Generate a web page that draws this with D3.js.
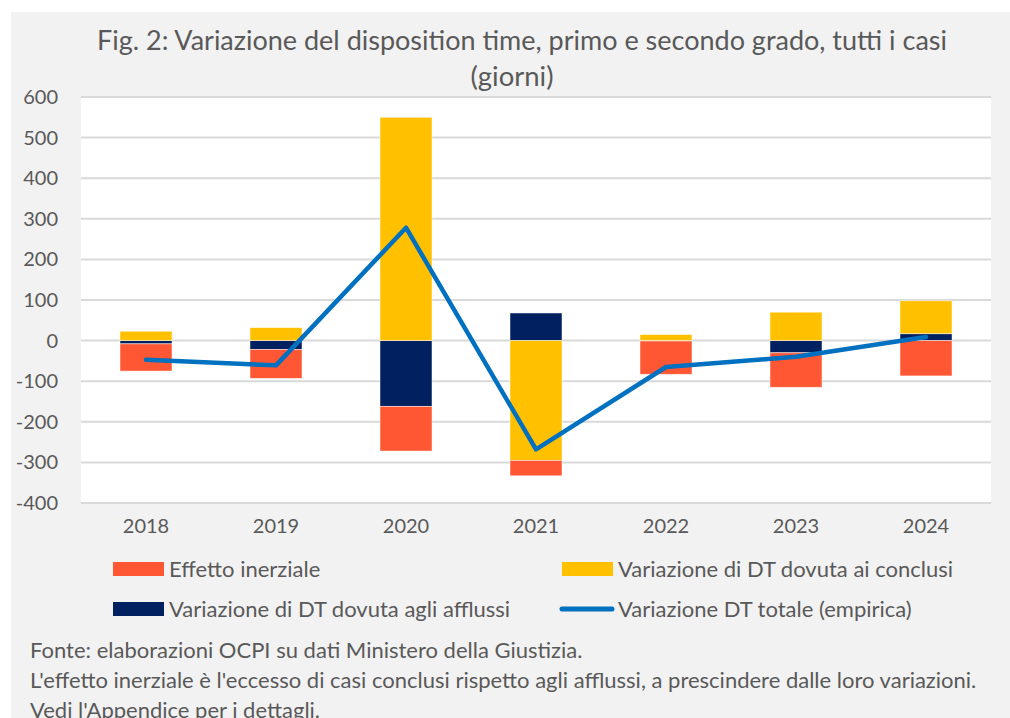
<!DOCTYPE html>
<html>
<head>
<meta charset="utf-8">
<script src="https://cdn.jsdelivr.net/npm/d3@7"></script>
<style>
  body { margin: 0; background: #fff; }
  svg text { font-family: Lato, "Open Sans", sans-serif; fill: #595959; }
</style>
</head>
<body>
<svg id="chart" width="1010" height="718"></svg>
<script>
// data (giorni)
var years = ["2018", "2019", "2020", "2021", "2022", "2023", "2024"];
var inerziale = [-67, -71, -110, -38, -82, -85, -87];
var conclusi = [23, 32, 550, -295, 15, 70, 81];
var afflussi = [-8, -22, -162, 68, -1, -30, 17];
var totale = [-47, -61, 278, -268, -65, -40, 9];
var yTicks = [-400, -300, -200, -100, 0, 100, 200, 300, 400, 500, 600];

var colors = {inerziale: "#ff5733", conclusi: "#ffc000", afflussi: "#002060", totale: "#0070c0"};

var svg = d3.select("#chart");

// grey panel
svg.append("rect")
    .attr("x", 11).attr("y", 12)
    .attr("width", 1010).attr("height", 718)
    .attr("fill", "#f2f2f2");

var plot = {left: 81, right: 991, top: 97, bottom: 503};

var x = d3.scaleBand()
    .domain(years)
    .range([plot.left, plot.right])
    .paddingInner(0.6)
    .paddingOuter(0.3);

var y = d3.scaleLinear()
    .domain([-400, 600])
    .range([plot.bottom, plot.top]);

svg.append("rect")
    .attr("x", plot.left).attr("y", plot.top)
    .attr("width", plot.right - plot.left).attr("height", plot.bottom - plot.top)
    .attr("fill", "#fff");

// gridlines
svg.append("g")
  .selectAll("line")
  .data(yTicks)
  .join("line")
    .attr("x1", plot.left).attr("x2", plot.right)
    .attr("y1", function(d) { return y(d); })
    .attr("y2", function(d) { return y(d); })
    .attr("stroke", "#d9d9d9")
    .attr("stroke-width", 2);

// y labels
svg.append("g")
  .selectAll("text")
  .data(yTicks)
  .join("text")
    .attr("x", 58)
    .attr("y", function(d) { return y(d) + 7; })
    .attr("text-anchor", "end")
    .attr("font-size", 20)
    .text(function(d) { return d; });

// x labels
svg.append("g")
  .selectAll("text")
  .data(years)
  .join("text")
    .attr("x", function(d) { return x(d) + x.bandwidth() / 2; })
    .attr("y", 533)
    .attr("text-anchor", "middle")
    .attr("font-size", 20)
    .text(function(d) { return d; });

// stacked bars
var rows = years.map(function(yr, i) {
  return {year: yr, afflussi: afflussi[i], conclusi: conclusi[i], inerziale: inerziale[i]};
});

var stack = d3.stack()
    .keys(["afflussi", "conclusi", "inerziale"])
    .offset(d3.stackOffsetDiverging);

var series = stack(rows);

svg.append("g")
  .selectAll("g")
  .data(series)
  .join("g")
    .attr("fill", function(d) { return colors[d.key]; })
  .selectAll("rect")
  .data(function(d) { return d; })
  .join("rect")
    .attr("x", function(d) { return x(d.data.year); })
    .attr("width", x.bandwidth())
    .attr("y", function(d) { return y(Math.max(d[0], d[1])); })
    .attr("height", function(d) { return Math.abs(y(d[0]) - y(d[1])); })
    .attr("stroke", "#fff")
    .attr("stroke-opacity", 0.6)
    .attr("stroke-width", 0.8);

// total line
var line = d3.line()
    .x(function(d, i) { return x(years[i]) + x.bandwidth() / 2; })
    .y(function(d) { return y(d); });

svg.append("path")
    .datum(totale)
    .attr("fill", "none")
    .attr("stroke", colors.totale)
    .attr("stroke-width", 4.5)
    .attr("stroke-linejoin", "round")
    .attr("stroke-linecap", "round")
    .attr("d", line);

// title
svg.append("text")
    .attr("x", 522).attr("y", 50)
    .attr("text-anchor", "middle")
    .attr("font-size", 27)
    .attr("textLength", 850)
    .attr("lengthAdjust", "spacingAndGlyphs")
    .text("Fig. 2: Variazione del disposition time, primo e secondo grado, tutti i casi");

svg.append("text")
    .attr("x", 512).attr("y", 86)
    .attr("text-anchor", "middle")
    .attr("font-size", 26)
    .attr("textLength", 83)
    .attr("lengthAdjust", "spacingAndGlyphs")
    .text("(giorni)");

// legend
var legend = [
  {label: "Effetto inerziale", key: "inerziale", x: 113, y: 562, type: "rect"},
  {label: "Variazione di DT dovuta ai conclusi", key: "conclusi", x: 562, y: 562, type: "rect"},
  {label: "Variazione di DT dovuta agli afflussi", key: "afflussi", x: 113, y: 602, type: "rect"},
  {label: "Variazione DT totale (empirica)", key: "totale", x: 562, y: 602, type: "line"}
];

var lg = svg.append("g").selectAll("g")
  .data(legend)
  .join("g")
    .attr("transform", function(d) { return "translate(" + d.x + "," + d.y + ")"; });

lg.filter(function(d) { return d.type == "rect"; })
  .append("rect")
    .attr("width", 51).attr("height", 14)
    .attr("fill", function(d) { return colors[d.key]; });

lg.filter(function(d) { return d.type == "line"; })
  .append("line")
    .attr("x1", 0).attr("x2", 50)
    .attr("y1", 7).attr("y2", 7)
    .attr("stroke", function(d) { return colors[d.key]; })
    .attr("stroke-width", 5)
    .attr("stroke-linecap", "round");

lg.append("text")
    .attr("x", 56).attr("y", 15)
    .attr("font-size", 22)
    .text(function(d) { return d.label; });

// footnote
var notes = [
  "Fonte: elaborazioni OCPI su dati Ministero della Giustizia.",
  "L'effetto inerziale è l'eccesso di casi conclusi rispetto agli afflussi, a prescindere dalle loro variazioni.",
  "Vedi l'Appendice per i dettagli."
];

svg.append("g").selectAll("text")
  .data(notes)
  .join("text")
    .attr("x", 30)
    .attr("y", function(d, i) { return 658 + i * 30; })
    .attr("font-size", 22)
    .text(function(d) { return d; });
</script>
</body>
</html>
